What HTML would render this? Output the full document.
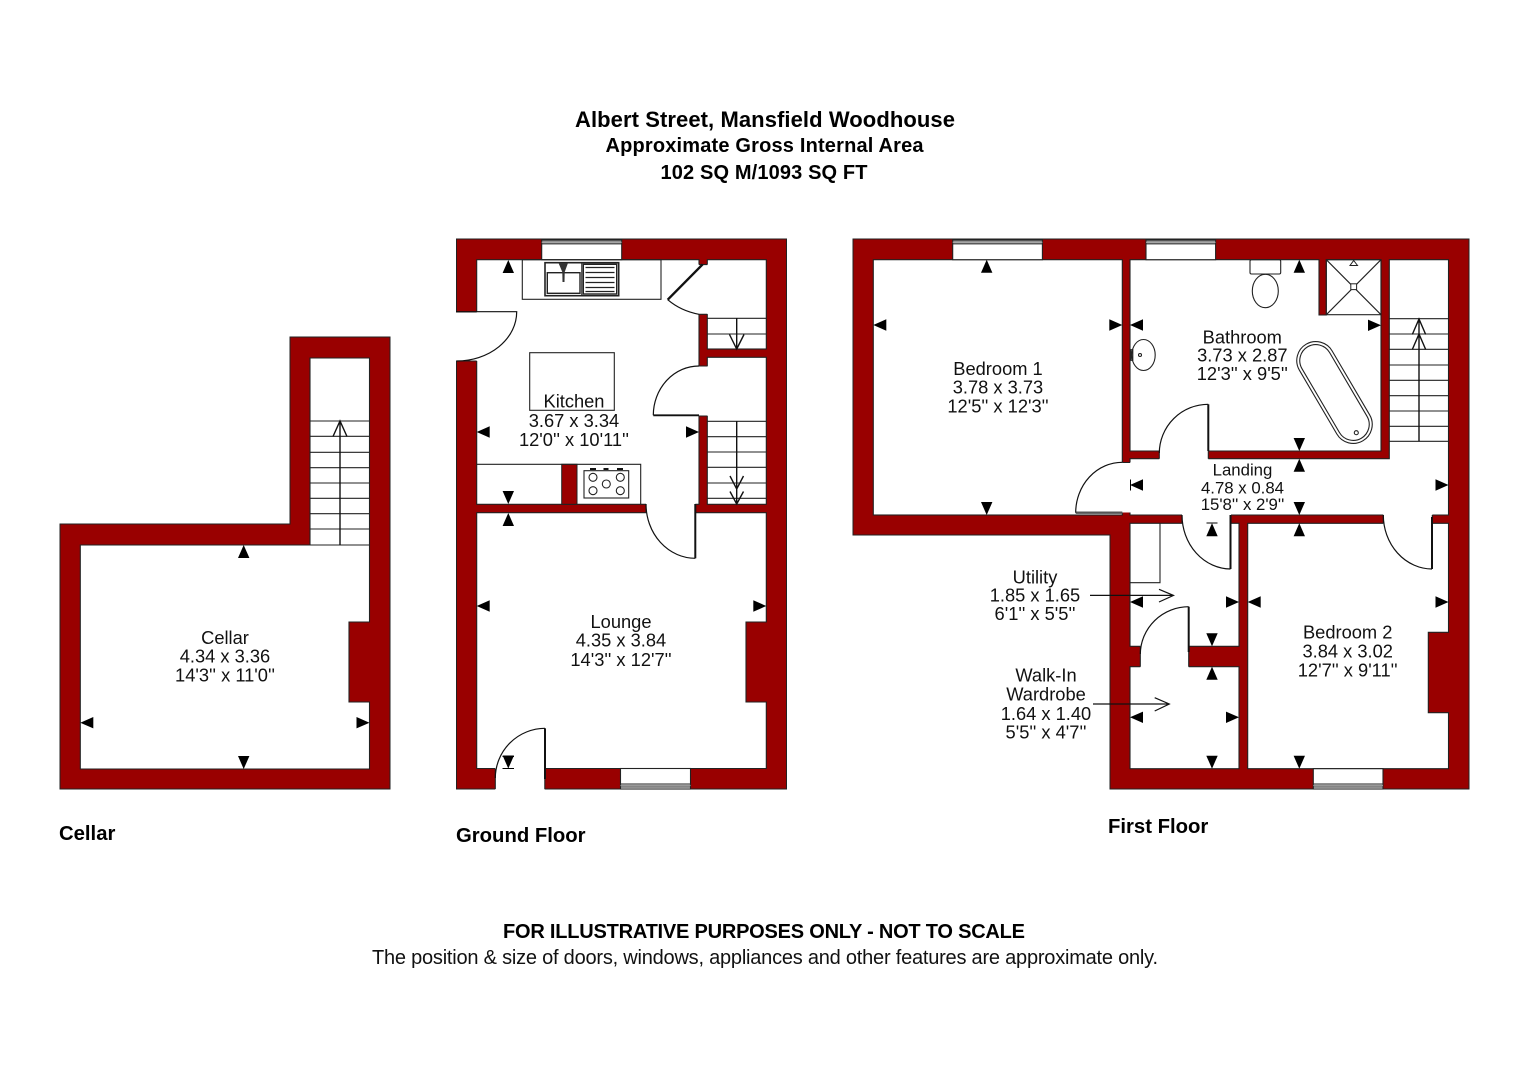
<!DOCTYPE html>
<html><head><meta charset="utf-8"><style>
html,body{margin:0;padding:0;background:#fff}
svg{display:block}
.w{fill:#990000;stroke:#222;stroke-width:1}
.r{fill:#fff;stroke:#222;stroke-width:1.1}
.o{fill:#fff;stroke:none}
.l{fill:none;stroke:#222;stroke-width:1.1}
.f{fill:none;stroke:#111;stroke-width:1.2}
.a{fill:none;stroke:#111;stroke-width:1.4}
.e{fill:none;stroke:#111;stroke-width:2.4}
.g{fill:none;stroke:#999;stroke-width:1.2}
text{font-family:"Liberation Sans",Arial,sans-serif;fill:#111;font-size:18.3px;text-anchor:middle}
.b{font-weight:bold;fill:#000}
.s{text-anchor:start}
</style></head><body>
<svg width="1528" height="1080" viewBox="0 0 1528 1080" xmlns="http://www.w3.org/2000/svg">
<defs><polygon id="t" points="0,0 5.7,13 -5.7,13" fill="#000"/></defs>
<rect width="1528" height="1080" fill="#fff"/>

<!-- Cellar -->
<polygon class="w" points="60,524 290,524 290,337 390,337 390,789 60,789"/>
<polygon class="r" points="80.3,545 310,545 310,358 369.5,358 369.5,622 349,622 349,702 369.5,702 369.5,769 80.3,769"/>
<path class="l" d="M310 421H369.5M310 436.3H369.5M310 452.3H369.5M310 467.7H369.5M310 483H369.5M310 498.3H369.5M310 513.7H369.5M310 529H369.5M310 545H369.5"/>
<path class="a" d="M340 545V421M333 436.5L340 421L347 436.5"/>
<use href="#t" transform="translate(243.7,545)"/>
<use href="#t" transform="translate(243.7,769) rotate(180)"/>
<use href="#t" transform="translate(80.3,722.7) rotate(-90)"/>
<use href="#t" transform="translate(369.5,722.7) rotate(90)"/>
<text x="225" y="644">Cellar</text>
<text x="225" y="662.5">4.34 x 3.36</text>
<text x="225" y="681.5">14'3'' x 11'0''</text>

<!-- Ground floor -->
<rect class="w" x="456.5" y="239" width="330" height="550"/>
<rect class="r" x="476.7" y="259.7" width="222.3" height="244.6"/>
<rect class="r" x="707.3" y="259.7" width="59" height="89.3"/>
<rect class="r" x="707.3" y="357.3" width="59" height="147"/>
<polygon class="r" points="476.7,512.7 766.3,512.7 766.3,622 746,622 746,702 766.3,702 766.3,768.5 476.7,768.5"/>
<rect class="o" x="698" y="264.6" width="10.5" height="49.5"/>
<rect class="o" x="698" y="366.3" width="10.5" height="49.5"/>
<rect class="o" x="646" y="503.5" width="49.3" height="10"/>
<rect class="o" x="455.5" y="312" width="22" height="49"/>
<rect class="o" x="495.3" y="767.5" width="49.3" height="22.5"/>
<path class="l" d="M699 264.6H707.3M699 314.3H707.3M699 366H707.3M699 416H707.3M646 504V512.7M695.3 504V512.7M456 312H476.7M456 361H476.7M495.3 769V789M544.8 769V789"/>
<!-- windows -->
<rect class="r" x="541.7" y="239.5" width="80" height="20.2"/>
<path class="g" d="M541.7 242.3H621.7"/><path class="l" d="M541.7 240.8H621.7M541.7 243.8H621.7"/>
<rect class="r" x="620.5" y="768.5" width="70" height="20.5"/>
<path class="g" d="M620.5 785.5H690.5"/><path class="l" d="M620.5 784H690.5M620.5 787H690.5"/>
<!-- kitchen fittings -->
<rect class="l" x="522.3" y="259.7" width="138.7" height="39.6"/>
<rect x="545" y="262.7" width="73.7" height="33" fill="#fff" stroke="#222" stroke-width="1.6"/>
<rect class="l" x="547.3" y="272.7" width="32.7" height="20.6" style="stroke-width:1.4"/>
<path class="l" d="M581.8 263V295"/>
<rect class="l" x="583.3" y="264.3" width="33.4" height="29.7" style="stroke-width:1.4"/>
<path class="l" d="M585.5 267.5H614.5M585.5 272.5H614.5M585.5 277.5H614.5M585.5 282.5H614.5M585.5 287.5H614.5M585.5 291.5H614.5" style="stroke-width:1.2"/>
<path d="M558.5 263H568L564.7 272L564.5 282H562.5L562.3 272Z" fill="#333"/>
<rect class="l" x="529.7" y="352.7" width="84.6" height="57.6"/>
<rect class="w" x="561.7" y="464.3" width="15.3" height="40"/>
<path class="l" d="M476.7 464.3H640.7V504"/>
<rect class="l" x="584" y="470.7" width="44.7" height="27.3"/>
<g class="l"><circle cx="593" cy="477.3" r="4"/><circle cx="620.3" cy="477.3" r="4"/><circle cx="593" cy="490.7" r="4"/><circle cx="620.3" cy="490.7" r="4"/><circle cx="606.3" cy="484" r="4"/></g>
<path d="M590 469H596M603.5 469H608.5M617 469H623" stroke="#111" stroke-width="2" fill="none"/>
<!-- cupboard stairs -->
<path class="l" d="M707.3 318.3H766.3M707.3 334H766.3"/>
<path class="a" d="M736.7 318V349M729.5 334.5L736.7 349L744 334.5"/>
<path class="l" d="M707.3 421.3H766.3M707.3 436.7H766.3M707.3 452H766.3M707.3 467.3H766.3M707.3 483H766.3M707.3 498.3H766.3"/>
<path class="a" d="M736.7 421V504M730 476L736.7 489L743.5 476M730 491.5L736.7 504L743.5 491.5"/>
<!-- doors -->
<path class="f" d="M456 311.7H516.7A60 49.3 0 0 1 456.7 361"/>
<path class="e" d="M702.7 264.3L667.7 299.7"/>
<path class="f" d="M667.7 299.7Q681 311 699 314.3"/>
<path class="e" d="M653.3 415.3H699" style="stroke-width:1.8"/>
<path class="f" d="M653.3 415.3A45.7 49.3 0 0 1 699 366"/>
<path class="e" d="M695.3 504V558.3" style="stroke-width:2"/>
<path class="f" d="M646 504A49.3 54.3 0 0 0 695.3 558.3"/>
<path class="e" d="M545 728.3V779" style="stroke-width:2"/>
<path class="f" d="M545 728.3A50 50 0 0 0 495.3 778"/>
<use href="#t" transform="translate(508.3,260)"/>
<use href="#t" transform="translate(476.7,432) rotate(-90)"/>
<use href="#t" transform="translate(699,432) rotate(90)"/>
<use href="#t" transform="translate(508.3,504) rotate(180)"/>
<use href="#t" transform="translate(508.3,513)"/>
<use href="#t" transform="translate(476.7,606) rotate(-90)"/>
<use href="#t" transform="translate(766.3,606) rotate(90)"/>
<use href="#t" transform="translate(508.3,768.5) rotate(180)"/>
<path d="M502.5 756.5H514M502.5 768.5H514" stroke="#000" stroke-width="1" fill="none"/>
<text x="574" y="407.7">Kitchen</text>
<text x="574" y="427">3.67 x 3.34</text>
<text x="574" y="446">12'0'' x 10'11''</text>
<text x="621" y="628">Lounge</text>
<text x="621" y="646.7">4.35 x 3.84</text>
<text x="621" y="666">14'3'' x 12'7''</text>

<!-- First floor -->
<polygon class="w" points="853,239 1469,239 1469,789 1110,789 1110,535 853,535"/>
<rect class="r" x="873.3" y="259.7" width="249" height="255.3"/>
<polygon class="r" points="1130,259.7 1319,259.7 1319,315 1326.3,315 1326.3,259.7 1381,259.7 1381,451 1130,451"/>
<polygon class="r" points="1130,458.7 1389.3,458.7 1389.3,259.7 1448.5,259.7 1448.5,515 1130,515"/>
<rect class="r" x="1130" y="523.3" width="109" height="123"/>
<rect class="r" x="1130" y="666.7" width="109" height="102"/>
<polygon class="r" points="1247.7,523.3 1448.5,523.3 1448.5,632.3 1428.3,632.3 1428.3,712.7 1448.5,712.7 1448.5,768.7 1247.7,768.7"/>
<!-- openings -->
<rect class="o" x="1121" y="462.5" width="10" height="50"/>
<rect class="o" x="1159.3" y="450" width="49" height="10"/>
<rect class="o" x="1182" y="514" width="49" height="10"/>
<rect class="o" x="1383.3" y="514" width="49" height="10"/>
<rect class="o" x="1140.3" y="645.5" width="48.4" height="22"/>
<path class="l" d="M1122.3 462.5H1130M1159.3 451V458.7M1208.3 451V458.7M1182 515V523.3M1231 515V523.3M1383.3 515V523.3M1432.3 515V523.3M1140.3 646.3V666.7M1188.7 646.3V666.7"/>
<!-- windows -->
<rect class="r" x="952.7" y="239.5" width="89.7" height="20.2"/>
<path class="g" d="M952.7 242.3H1042.4"/><path class="l" d="M952.7 240.8H1042.4M952.7 243.8H1042.4"/>
<rect class="r" x="1146" y="239.5" width="69.6" height="20.2"/>
<path class="g" d="M1146 242.3H1215.6"/><path class="l" d="M1146 240.8H1215.6M1146 243.8H1215.6"/>
<rect class="r" x="1313.3" y="768.7" width="69.7" height="20.3"/>
<path class="g" d="M1313.3 785.5H1383"/><path class="l" d="M1313.3 784H1383M1313.3 787H1383"/>
<!-- bathroom fittings -->
<rect class="l" x="1326.3" y="259.7" width="54.7" height="55"/>
<path class="l" d="M1326.3 259.7L1381 314.7M1381 259.7L1326.3 314.7"/>
<rect x="1350.8" y="283.8" width="5.8" height="5.8" fill="#fff" stroke="#222"/>
<polygon points="1353.7,260.5 1357.5,265.5 1350,265.5" fill="#fff" stroke="#222"/>
<rect class="l" x="1250" y="259.7" width="30.7" height="14.3" rx="1.5"/>
<ellipse cx="1265.3" cy="291" rx="13" ry="16.7" class="l"/>
<ellipse cx="1143.5" cy="355" rx="11.7" ry="15.5" class="l"/>
<rect class="l" x="1131" y="349.7" width="1.8" height="10.6"/><circle cx="1140" cy="355" r="1.5" class="l"/>
<g transform="translate(1334.5,392.5) rotate(-30.4)">
<rect x="-19" y="-56" width="38" height="112" rx="19" class="l"/>
<rect x="-16" y="-53" width="32" height="106" rx="16" class="l"/>
</g>
<circle cx="1356.3" cy="432.7" r="2" class="l"/>
<!-- stairs -->
<path class="l" d="M1389.3 318.7H1448.5M1389.3 334H1448.5M1389.3 349.3H1448.5M1389.3 365H1448.5M1389.3 380.3H1448.5M1389.3 395.7H1448.5M1389.3 411H1448.5M1389.3 426.3H1448.5M1389.3 441.3H1448.5"/>
<path class="a" d="M1419 441.3V319M1412.3 334.5L1419 319L1425.7 334.5M1412.3 349.5L1419 334L1425.7 349.5"/>
<!-- cupboard -->
<path class="l" d="M1160 523.3V582.7H1130" stroke-width="1.2"/>
<!-- doors -->
<path d="M1075.7 512.7H1122.3" stroke="#555" stroke-width="2.4" fill="none"/>
<path class="f" d="M1075.7 512.7A46.6 50.4 0 0 1 1122.3 462.3"/>
<path class="e" d="M1208.3 404.3V451" style="stroke-width:2"/>
<path class="f" d="M1208.3 404.3A49 49 0 0 0 1159.3 453"/>
<path class="e" d="M1230.5 515V569" style="stroke-width:2"/>
<path class="f" d="M1182 515A49 54 0 0 0 1230.5 569"/>
<path class="e" d="M1432 517V569" style="stroke-width:2"/>
<path class="f" d="M1383.3 515A49 54 0 0 0 1432 569"/>
<path class="e" d="M1188.7 606.7V652" style="stroke-width:2"/>
<path class="f" d="M1188.7 606.7A48.4 48 0 0 0 1140.3 654"/>
<!-- ticks -->
<use href="#t" transform="translate(986.7,259.7)"/>
<use href="#t" transform="translate(873.3,325) rotate(-90)"/>
<use href="#t" transform="translate(1122.3,325) rotate(90)"/>
<use href="#t" transform="translate(986.7,515) rotate(180)"/>
<use href="#t" transform="translate(1130,325) rotate(-90)"/>
<use href="#t" transform="translate(1299.3,259.7)"/>
<use href="#t" transform="translate(1381,325.3) rotate(90)"/>
<use href="#t" transform="translate(1299.3,451) rotate(180)"/>
<use href="#t" transform="translate(1299.3,458.7)"/>
<use href="#t" transform="translate(1130,485) rotate(-90)"/>
<path d="M1130.5 479.5V490.5" stroke="#000" stroke-width="1"/>
<use href="#t" transform="translate(1448.5,485) rotate(90)"/>
<use href="#t" transform="translate(1299.3,515) rotate(180)"/>
<use href="#t" transform="translate(1299.3,523.3)"/>
<use href="#t" transform="translate(1247.7,602) rotate(-90)"/>
<use href="#t" transform="translate(1448.5,602) rotate(90)"/>
<use href="#t" transform="translate(1299.3,768.7) rotate(180)"/>
<use href="#t" transform="translate(1212,523.3)"/>
<path d="M1206.5 523H1217.5" stroke="#000" stroke-width="1"/>
<use href="#t" transform="translate(1130,602) rotate(-90)"/>
<use href="#t" transform="translate(1239,602) rotate(90)"/>
<use href="#t" transform="translate(1212,646.3) rotate(180)"/>
<use href="#t" transform="translate(1212,666.7)"/>
<use href="#t" transform="translate(1130,717.3) rotate(-90)"/>
<use href="#t" transform="translate(1239,717.3) rotate(90)"/>
<use href="#t" transform="translate(1212,768.7) rotate(180)"/>
<!-- leader arrows -->
<path class="f" d="M1090 595.4H1173.5M1159 589.3L1173.5 595.4L1159 602"/>
<path class="f" d="M1093 704H1169.3M1154.7 697.7L1169.3 704L1154.7 711"/>
<!-- labels -->
<text x="998" y="375">Bedroom 1</text>
<text x="998" y="393.3">3.78 x 3.73</text>
<text x="998" y="412.3">12'5'' x 12'3''</text>
<text x="1242.3" y="343.3">Bathroom</text>
<text x="1242.3" y="361.7">3.73 x 2.87</text>
<text x="1242.3" y="380">12'3'' x 9'5''</text>
<text x="1242.5" y="475.7" style="font-size:16.8px">Landing</text>
<text x="1242.5" y="493.3" style="font-size:16.8px">4.78 x 0.84</text>
<text x="1242.5" y="510" style="font-size:16.8px">15'8'' x 2'9''</text>
<text x="1347.7" y="638.7">Bedroom 2</text>
<text x="1347.7" y="657.3">3.84 x 3.02</text>
<text x="1347.7" y="676.7">12'7'' x 9'11''</text>
<text x="1035" y="583.3">Utility</text>
<text x="1035" y="601.7">1.85 x 1.65</text>
<text x="1035" y="620">6'1'' x 5'5''</text>
<text x="1046" y="681.7">Walk-In</text>
<text x="1046" y="700.7">Wardrobe</text>
<text x="1046" y="720">1.64 x 1.40</text>
<text x="1046" y="738.3">5'5'' x 4'7''</text>

<!-- Headings -->
<text class="b" x="765" y="127" style="font-size:22px" textLength="380">Albert Street, Mansfield Woodhouse</text>
<text class="b" x="764.5" y="152" style="font-size:20px" textLength="318">Approximate Gross Internal Area</text>
<text class="b" x="764" y="179" style="font-size:20px" textLength="207">102 SQ M/1093 SQ FT</text>
<text class="b s" x="59" y="840" style="font-size:20.3px">Cellar</text>
<text class="b s" x="456" y="842" style="font-size:20.3px">Ground Floor</text>
<text class="b s" x="1108" y="833" style="font-size:20.3px">First Floor</text>
<text class="b" x="764" y="938" style="font-size:20px" textLength="522">FOR ILLUSTRATIVE PURPOSES ONLY - NOT TO SCALE</text>
<text x="765" y="964" style="font-size:20px" textLength="786">The position &amp; size of doors, windows, appliances and other features are approximate only.</text>
</svg>
</body></html>
